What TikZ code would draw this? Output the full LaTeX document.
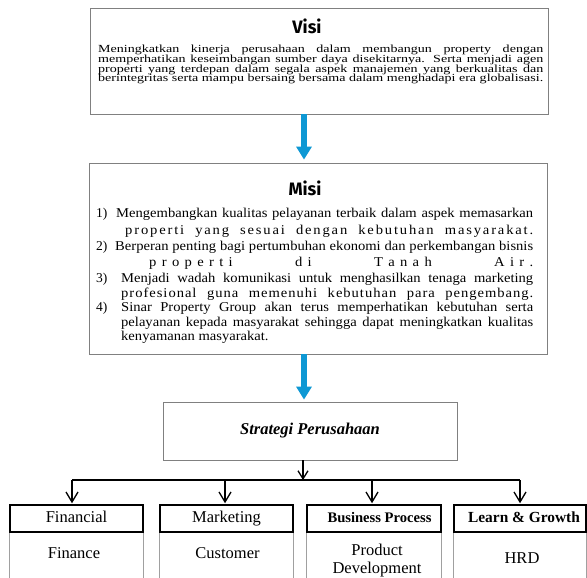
\documentclass[tikz,border=0pt]{standalone}
\usepackage{graphicx}
\usepackage{fontspec}
\setmainfont{Liberation Serif}
\newfontfamily\titlefont{Fira Sans}
\usetikzlibrary{arrows.meta}
\definecolor{arrowblue}{RGB}{14,152,212}
\definecolor{boxgray}{RGB}{128,128,128}
\definecolor{sidegray}{RGB}{160,160,160}
\makeatletter
\def\lsword#1{\ls@w#1\@nil}
\def\ls@w#1#2\@nil{#1\ifx\relax#2\relax\else\hskip0pt plus 1fil\relax\ls@w#2\@nil\fi}
\makeatother
\newcommand{\wg}[1]{\hskip 3.4pt plus #1fil\relax}
\newcommand{\vl}[1]{\scalebox{1.19}[0.92]{\makebox[374pt][s]{#1}}}
\newcommand{\ml}[2]{\scalebox{1.08}[1]{\makebox[#1][s]{#2}}}
\newcommand{\mh}[2]{\scalebox{1.08}[1]{\hbox to #1{#2}}}
\begin{document}
\begin{tikzpicture}[x=1pt,y=-1pt,
  box/.style={draw=boxgray,line width=0.8pt,inner sep=0pt},
  hdr/.style={draw=black,line width=1.5pt,inner sep=0pt,minimum height=27pt,text height=10.5pt,text depth=3.5pt,font=\fontsize{16.5}{16.5}\selectfont},
  side/.style={draw=sidegray,line width=0.8pt},
  vtext/.style={anchor=base west,inner sep=0pt,font=\fontsize{11.8}{11.8}\selectfont},
  mtext/.style={anchor=base west,inner sep=0pt,font=\fontsize{13.5}{13.5}\selectfont},
  btext/.style={anchor=base,inner sep=0pt,font=\fontsize{16.5}{16.5}\selectfont},
  ttl/.style={anchor=base,inner sep=0pt,font=\titlefont\bfseries\fontsize{18}{18}\selectfont},
  bluearr/.style={draw=arrowblue,line width=6pt,-{Triangle[length=13pt,width=15pt,fill=arrowblue]}},
  conn/.style={draw=black,line width=1.3pt,-{Straight Barb[length=10pt,width=12pt]}},
  smallconn/.style={draw=black,line width=1.3pt,-{Straight Barb[length=8pt,width=10pt]}},
  hline/.style={draw=black,line width=1.3pt}
]
\fill[white] (0,0) rectangle (587,578);
\useasboundingbox (0,0) rectangle (587,578);

% Visi
\node[box,minimum width=458pt,minimum height=106pt] (visi) at (319,61) {};
\node[ttl] (vt) at (307,34) {Visi};
\node[vtext] (v1) at (98,53) {\vl{Meningkatkan kinerja perusahaan dalam membangun property dengan}};
\node[vtext] (v2) at (98,62.7) {\vl{memperhatikan keseimbangan sumber daya disekitarnya. Serta menjadi agen}};
\node[vtext] (v3) at (98,72.4) {\vl{properti yang terdepan dalam segala aspek manajemen yang berkualitas dan}};
\node[vtext] (v4) at (98,82) {\vl{berintegritas serta mampu bersaing bersama dalam menghadapi era globalisasi.}};

% Misi
\node[box,minimum width=458pt,minimum height=191pt] (misi) at (318,258.5) {};
\node[ttl] (mt) at (305,195) {Misi};
\node[mtext] (m1n) at (96,217) {1)};
\node[mtext] (m1) at (116,217) {\ml{386pt}{Mengembangkan kualitas pelayanan terbaik dalam aspek memasarkan}};
\node[mtext] (m2) at (125,234) {\mh{377.8pt}{\lsword{properti}\wg{4}\lsword{yang}\wg{4}\lsword{sesuai}\wg{4}\lsword{dengan}\wg{4}\lsword{kebutuhan}\wg{4}\lsword{masyarakat.}}};
\node[mtext] (m3n) at (96,250) {2)};
\node[mtext] (m3) at (115,250) {\ml{387pt}{Berperan penting bagi pertumbuhan ekonomi dan perkembangan bisnis}};
\node[mtext] (m4) at (149,266) {\mh{355.6pt}{\lsword{properti}\wg{11}\lsword{di}\wg{11}\lsword{Tanah}\wg{11}\lsword{Air.}}};
\node[mtext] (m5n) at (96,282) {3)};
\node[mtext] (m5) at (121,282) {\ml{381.5pt}{Menjadi wadah komunikasi untuk menghasilkan tenaga marketing}};
\node[mtext] (m6) at (121,297) {\mh{381.5pt}{\lsword{profesional}\wg{7}\lsword{guna}\wg{7}\lsword{memenuhi}\wg{7}\lsword{kebutuhan}\wg{7}\lsword{para}\wg{7}\lsword{pengembang.}}};
\node[mtext] (m7n) at (96,311) {4)};
\node[mtext] (m7) at (121,311) {\ml{381.5pt}{Sinar Property Group akan terus memperhatikan kebutuhan serta}};
\node[mtext] (m8) at (121,326) {\ml{381.5pt}{pelayanan kepada masyarakat sehingga dapat meningkatkan kualitas}};
\node[mtext] (m9) at (121,340) {\scalebox{1.08}[1]{kenyamanan masyarakat.}};

% Strategi
\node[box,minimum width=294pt,minimum height=58pt,font=\bfseries\itshape\fontsize{16.5}{16.5}\selectfont] (strat) at (310,431) {Strategi Perusahaan};

% blue arrows
\coordinate (ax) at (304,0);
\draw[bluearr,shorten >=3pt] (visi.south -| ax) -- (misi.north -| ax);
\draw[bluearr,shorten >=2pt] (misi.south -| ax) -- (strat.north -| ax);

% header boxes
\node[hdr,minimum width=133pt] (h1) at (76.5,518.5) {Financial};
\node[hdr,minimum width=133pt] (h2) at (226.5,518.5) {Marketing};
\node[hdr,minimum width=134pt,font=\bfseries\fontsize{14.6}{14.6}\selectfont] (h3) at (374,518.5) {\hspace*{11pt}Business Process};
\node[hdr,minimum width=132pt,font=\bfseries\fontsize{15.4}{15.4}\selectfont] (h4) at (520,518.5) {\hspace*{8pt}Learn \& Growth};

% body sides
\foreach \h in {h1,h2,h3,h4}{
  \draw[side] (\h.south west) -- (\h.south west |- 0,578);
  \draw[side] (\h.south east) -- (\h.south east |- 0,578);
}

% body texts
\node[btext] (b1) at (74,558) {Finance};
\node[btext] (b2) at (227.5,558) {Customer};
\node[btext] (b3) at (377,555) {Product};
\node[btext] (b3b) at (377,573) {Development};
\node[btext] (b4) at (522,563) {HRD};

% connectors
\coordinate (jn) at (303,480);
\coordinate (c1) at (72,480);
\coordinate (c2) at (225,480);
\coordinate (c3) at (372,480);
\coordinate (c4) at (520,480);
\draw[smallconn] (strat.south -| jn) -- (jn);
\draw[hline] (c1) -- (c4);
\draw[conn,shorten >=1pt] (c1) -- (c1 |- h1.north);
\draw[conn,shorten >=1pt] (c2) -- (c2 |- h2.north);
\draw[conn,shorten >=1pt] (c3) -- (c3 |- h3.north);
\draw[conn,shorten >=1pt] (c4) -- (c4 |- h4.north);
\end{tikzpicture}
\end{document}
